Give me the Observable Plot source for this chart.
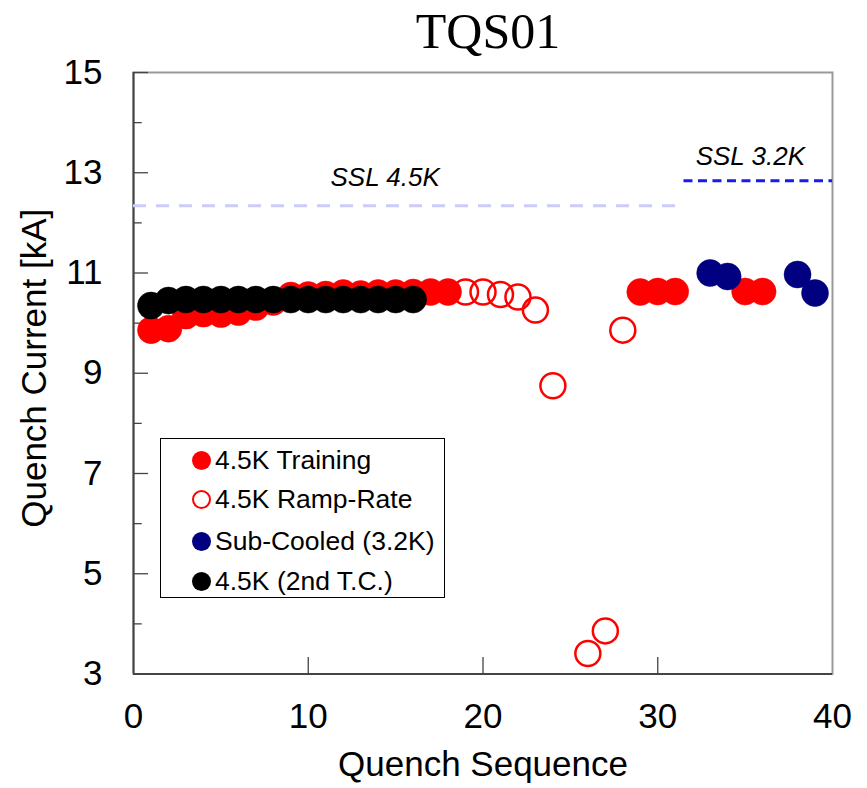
<!DOCTYPE html>
<html>
<head>
<meta charset="utf-8">
<script src="https://cdn.jsdelivr.net/npm/d3@7"></script>
<script src="https://cdn.jsdelivr.net/npm/@observablehq/plot@0.6"></script>
<style>
  html, body { margin: 0; padding: 0; background: #fff; }
  #wrap { position: relative; width: 867px; height: 788px; font-family: "Liberation Sans", Arial, sans-serif; }
  #title { position: absolute; left: 0; top: 2px; width: 976px; text-align: center; font-family: "Liberation Serif", "Times New Roman", serif; font-size: 50px; line-height: 58px; color: #000; }
  #legend { position: absolute; left: 160px; top: 438px; width: 285px; height: 160px; border: 1px solid #000; background: #fff; box-sizing: border-box; }
  .row { position: absolute; left: 0; height: 32px; display: flex; align-items: center; font-size: 26.5px; color: #000; white-space: nowrap; }
  .dot { display: inline-block; width: 19px; height: 19px; border-radius: 50%; margin-left: 31px; margin-right: 4px; box-sizing: border-box; }
</style>
</head>
<body>
<div id="wrap">
  <div id="chart"></div>
  <div id="title">TQS01</div>
  <div id="legend"></div>
</div>
<script>
// ---- data ----
const trainingX = [1,2,3,4,5,6,7,8,9,10,11,12,13,14,15,16,17,18,29,30,31,35,36];
const trainingY = [9.86,9.89,10.15,10.19,10.18,10.22,10.32,10.42,10.55,10.56,10.57,10.6,10.58,10.6,10.6,10.61,10.62,10.62,10.62,10.63,10.63,10.63,10.63];
const rampX = [19,20,21,22,23,24,26,27,28];
const rampY = [10.62,10.62,10.57,10.52,10.26,8.75,3.41,3.86,9.86];
const subX = [33,34,38,39];
const subY = [11.0,10.93,10.97,10.6];
const tc2X = [1,2,3,4,5,6,7,8,9,10,11,12,13,14,15,16];
const tc2Y = [10.35,10.45,10.47,10.47,10.47,10.47,10.47,10.47,10.47,10.47,10.47,10.47,10.47,10.47,10.47,10.47];

const ssl45 = {label: "SSL 4.5K", value: 12.34, from: 0, to: 31.4, labelX: 14.4, labelY: 12.9};
const ssl32 = {label: "SSL 3.2K", value: 12.84, from: 31.5, to: 40, labelX: 35.3, labelY: 13.32};

const xTicks = [0,10,20,30,40];
const yTicks = [3,5,7,9,11,13,15];
const yMinor = [4,6,8,10,12,14];
const xInner = [10,20,30];

const legendItems = [
  {name: "4.5K Training", fill: "#ff0000", stroke: "#ff0000"},
  {name: "4.5K Ramp-Rate", fill: "#ffffff", stroke: "#ff0000"},
  {name: "Sub-Cooled (3.2K)", fill: "#000080", stroke: "#000080"},
  {name: "4.5K (2nd T.C.)", fill: "#000000", stroke: "#000000"}
];

const zip = (xs, ys) => xs.map((x, i) => ({x, y: ys[i]}));
const training = zip(trainingX, trainingY);
const ramp = zip(rampX, rampY);
const sub = zip(subX, subY);
const tc2 = zip(tc2X, tc2Y);

const R = 13.5;
const font = "Liberation Sans, Arial, sans-serif";

const plot = Plot.plot({
  width: 867,
  height: 788,
  marginLeft: 133,
  marginRight: 35,
  marginTop: 72,
  marginBottom: 114.5,
  style: {fontFamily: font, background: "#fff", color: "#000"},
  x: {domain: [0, 40]},
  y: {domain: [3, 15]},
  marks: [
    Plot.frame({stroke: "#999", strokeWidth: 2}),
    Plot.ruleX([0], {stroke: "#444", strokeWidth: 2}),
    Plot.ruleY([3], {stroke: "#444", strokeWidth: 2}),
    Plot.ruleY(yMinor, {y: d => d, x1: 0, x2: 0.5, stroke: "#444", strokeWidth: 1.3}),
    Plot.ruleY(yTicks, {y: d => d, x1: 0, x2: 0.86, stroke: "#444", strokeWidth: 1.3}),
    Plot.ruleX(xInner, {x: d => d, y1: 3, y2: 3.33, stroke: "#444", strokeWidth: 1.3}),
    Plot.axisY({ticks: yTicks, tickSize: 0, tickPadding: 31, fontSize: 35, label: null}),
    Plot.axisX({ticks: xTicks, tickSize: 0, tickPadding: 29, fontSize: 35, label: null}),
    Plot.text(["Quench Sequence"], {frameAnchor: "bottom", lineAnchor: "middle", textAnchor: "middle", dy: 91, fontSize: 35}),
    Plot.text(["Quench Current [kA]"], {frameAnchor: "left", textAnchor: "middle", lineAnchor: "middle", dx: -99, dy: -5, rotate: -90, fontSize: 35}),
    // SSL lines
    Plot.ruleY([ssl45], {y: "value", x1: "from", x2: "to", stroke: "#ccccfa", strokeWidth: 3, strokeDasharray: "13,10"}),
    Plot.ruleY([ssl32], {y: "value", x1: "from", x2: "to", stroke: "#1a1aee", strokeWidth: 3, strokeDasharray: "9,5.5"}),
    Plot.text([ssl45, ssl32], {x: "labelX", y: "labelY", text: "label", fontSize: 26, fontStyle: "italic"}),
    // data
    Plot.dot(training, {x: "x", y: "y", r: R, fill: "#ff0000", stroke: "#ff0000", strokeWidth: 0.5}),
    Plot.dot(ramp, {x: "x", y: "y", r: R - 1, fill: "none", stroke: "#ff0000", strokeWidth: 2.5}),
    Plot.dot(sub, {x: "x", y: "y", r: R, fill: "#000080", stroke: "#000080", strokeWidth: 0.5}),
    Plot.dot(tc2, {x: "x", y: "y", r: R, fill: "#000000", stroke: "#000000", strokeWidth: 0.5})
  ]
});
document.getElementById("chart").appendChild(plot);

const rowsY = [21, 60, 102, 142];
const legend = document.getElementById("legend");
legendItems.forEach((d, i) => {
  const row = document.createElement("div");
  row.className = "row";
  row.style.top = (rowsY[i] - 16) + "px";
  const dot = document.createElement("span");
  dot.className = "dot";
  dot.style.background = d.fill;
  dot.style.border = d.fill === "#ffffff" ? "2px solid " + d.stroke : "none";
  const label = document.createElement("span");
  label.textContent = d.name;
  row.appendChild(dot);
  row.appendChild(label);
  legend.appendChild(row);
});
</script>
</body>
</html>
